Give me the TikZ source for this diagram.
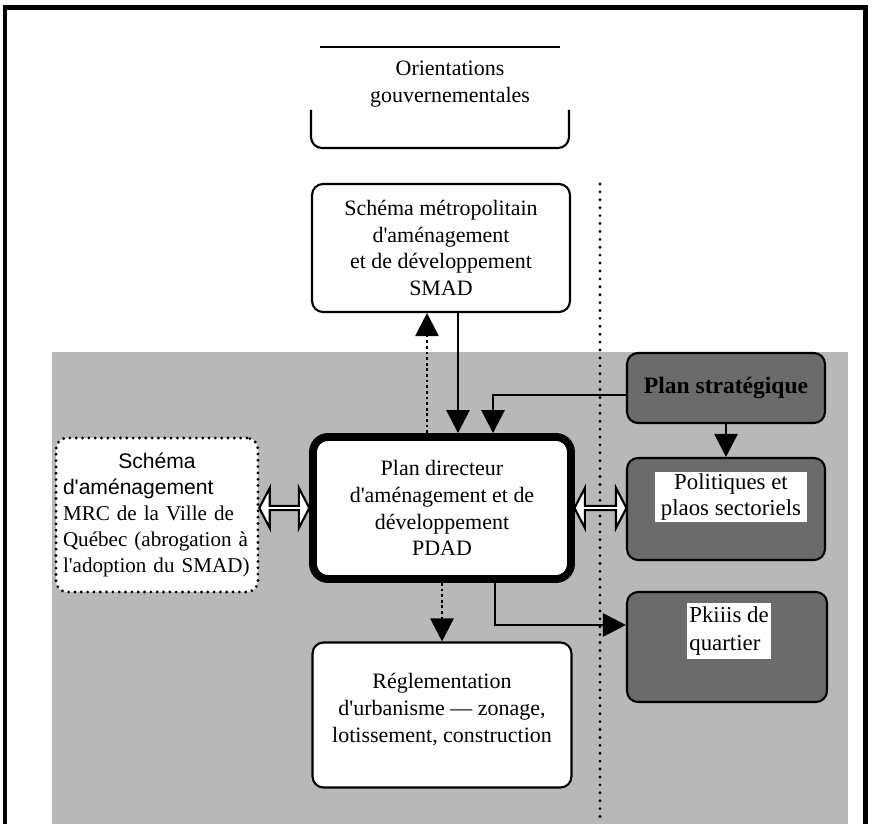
\documentclass[tikz,border=0pt]{standalone}
\usepackage{fontspec}
\newfontfamily\tms{Liberation Serif}
\newfontfamily\arl{Liberation Sans}
\usetikzlibrary{arrows.meta,calc,shapes.arrows}

\begin{document}
\begin{tikzpicture}[x=0.02cm, y=-0.02cm,
  box/.style={draw, rounded corners=0.22cm, line width=1.2pt, fill=white, align=center,
    font=\tms\fontsize{12.5}{15.3}\selectfont},
  darkbox/.style={draw, rounded corners=0.22cm, line width=1.2pt, fill=black!58},
  whitetag/.style={fill=white, inner sep=0pt, align=center, font=\tms\fontsize{13}{14.6}\selectfont},
  arr/.style={line width=1.6pt, -{Triangle[length=0.46cm,width=0.46cm]}},
  dotarr/.style={arr, dash pattern=on 1.6pt off 1.6pt},
  dbl/.style={double arrow, draw, fill=white, line width=1.2pt, inner sep=0pt,
    minimum height=1cm, minimum width=0.8cm, double arrow head extend=0.18cm,
    double arrow tip angle=125}]
\useasboundingbox (0,0) rectangle (873,824);
% page background and frame
\fill[black!28] (52,352) rectangle (848,824);
\draw[line width=0.1cm] (5,824) -- (5,8) -- (865,8) -- (865,824);
\draw[line width=1.8pt, dash pattern=on 0pt off 4.5pt, line cap=round] (600,184) -- (600,824);
% boxes
\node[align=center, font=\tms\fontsize{12.5}{15.3}\selectfont] (orient) at (450,84) {Orientations\\gouvernementales};
\draw[line width=1.2pt] (320,47) -- (560,47);
\draw[line width=1.2pt, rounded corners=0.22cm] (311,110) -- (311,148) -- (569,148) -- (569,110);
\node[box, minimum width=5.16cm, minimum height=2.56cm] (smad) at (441,248) {Schéma métropolitain\\d'aménagement\\et de développement\\SMAD};
\node[box, minimum width=5.16cm, minimum height=2.84cm, line width=4.5pt, rounded corners=0.3cm] (pdad) at (442,508) {Plan directeur\\d'aménagement et de\\développement\\PDAD};
\node[box, minimum width=4.04cm, minimum height=3.08cm, text width=3.76cm, align=left,
  draw, line width=1.8pt, dash pattern=on 0pt off 3.6pt, line cap=round,
  font=\tms\fontsize{12}{14.8}\selectfont] (mrc) at (157,515)
  {\makebox[3.76cm]{\arl Schéma}\\{\arl d'aménagement}\\MRC de la Ville de\\Québec (abrogation à\\l'adoption du SMAD)};
\node[box, minimum width=5.18cm, minimum height=2.9cm] (regl) at (442,715) {Réglementation\\d'urbanisme — zonage,\\lotissement, construction\\[-0.26cm]};
\node[darkbox, minimum width=3.96cm, minimum height=1.4cm, font=\tms\bfseries\fontsize{13.4}{15}\selectfont] (plan) at (726,388) {Plan stratégique};
\node[darkbox, minimum width=3.96cm, minimum height=2.04cm] (polbox) at (726,509) {};
\node[whitetag, minimum width=3.04cm, minimum height=1.02cm] (poltxt) at (731,497) {Politiques et\\plaos sectoriels};
\node[darkbox, minimum width=4cm, minimum height=2.2cm] (pkbox) at (727,647) {};
\node[whitetag, minimum width=1.68cm, minimum height=1.14cm, align=left, font=\tms\fontsize{13}{15.9}\selectfont] (pktxt) at (729,631) {Pkiiis de\\quartier};
% arrows
\draw[dotarr] ($(pdad.north)+(-15,0)$) -- ($(smad.south)+(-14,0)$);
\draw[arr] ($(smad.south)+(17,0)$) -- ($(pdad.north)+(16,0)$);
\draw[arr] ($(plan.west)+(0,7)$) -| ($(pdad.north)+(51,0)$);
\draw[arr] (plan.south) -- (polbox.north);
\draw[dotarr] (pdad.south) -- (regl.north);
\draw[arr] ($(pdad.south)+(53,0)$) |- ($(pkbox.west)+(0,-22)$);
\node[dbl] (dblL) at ($(mrc.east |- pdad.west)!0.5!(pdad.west)$) {};
\node[dbl, minimum height=1.04cm] (dblR) at ($(pdad.east)!0.5!(polbox.west |- pdad.east)$) {};
\end{tikzpicture}
\end{document}
